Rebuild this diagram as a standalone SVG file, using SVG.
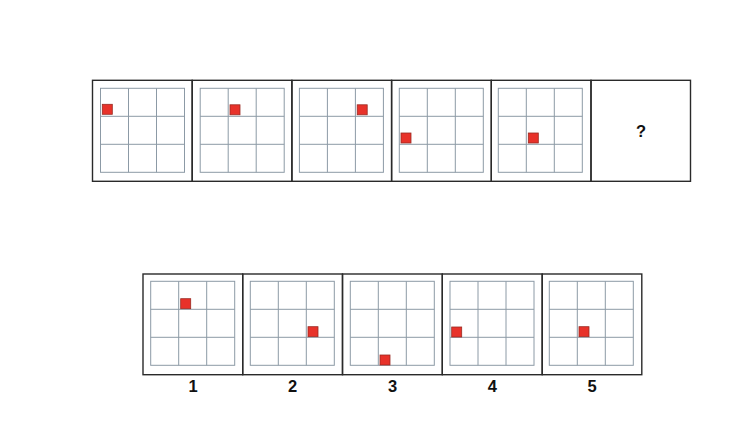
<svg xmlns="http://www.w3.org/2000/svg" xmlns:xlink="http://www.w3.org/1999/xlink" width="749" height="437" viewBox="0 0 749 437">
<style>
.frame{fill:none;stroke:#2a2a2a;stroke-width:1.4}
.grid{fill:none;stroke:#8c9aa6;stroke-width:1}
.dot{fill:#e8322a;stroke:#9a2a22;stroke-width:0.8}
.lbl{font-family:"Liberation Sans",Arial,sans-serif;font-size:16.5px;font-weight:bold;fill:#111;text-anchor:middle}
</style>
<defs>
<g id="grid">
<rect class="grid" x="0" y="0" width="84" height="84"/>
<path class="grid" d="M28 0V84M56 0V84M0 28H84M0 56H84"/>
</g>
</defs>
<rect x="0" y="0" width="749" height="437" fill="#fff"/>
<g id="top-row">
<g id="p1" transform="translate(92.5,80.3)">
<rect class="frame" x="0" y="0" width="99.7" height="101"/>
<use xlink:href="#grid" x="8" y="8"/>
<rect class="dot" x="9.8" y="24" width="10" height="10"/>
</g>
<g id="p2" transform="translate(192.2,80.3)">
<rect class="frame" x="0" y="0" width="99.7" height="101"/>
<use xlink:href="#grid" x="8" y="8"/>
<rect class="dot" x="37.8" y="24.5" width="10" height="10"/>
</g>
<g id="p3" transform="translate(291.9,80.3)">
<rect class="frame" x="0" y="0" width="99.7" height="101"/>
<use xlink:href="#grid" x="7.5" y="8"/>
<rect class="dot" x="65.3" y="24.5" width="10" height="10"/>
</g>
<g id="p4" transform="translate(391.6,80.3)">
<rect class="frame" x="0" y="0" width="99.7" height="101"/>
<use xlink:href="#grid" x="7.7" y="8"/>
<rect class="dot" x="9.4" y="52.7" width="10" height="10"/>
</g>
<g id="p5" transform="translate(491.3,80.3)">
<rect class="frame" x="0" y="0" width="99.7" height="101"/>
<use xlink:href="#grid" x="7" y="8"/>
<rect class="dot" x="37" y="52.7" width="10" height="10"/>
</g>
<g id="p6" transform="translate(591,80.3)">
<rect class="frame" x="0" y="0" width="99.5" height="101"/>
<text class="lbl" x="50" y="56.5">?</text>
</g>
</g>
<g id="bottom-row">
<g id="o1" transform="translate(143,274)">
<rect class="frame" x="0" y="0" width="99.7" height="100.7"/>
<use xlink:href="#grid" x="7.7" y="7.3"/>
<rect class="dot" x="37.7" y="24.7" width="10" height="10"/>
<text class="lbl" x="50" y="118">1</text>
</g>
<g id="o2" transform="translate(242.7,274)">
<rect class="frame" x="0" y="0" width="99.8" height="100.7"/>
<use xlink:href="#grid" x="7.6" y="7.3"/>
<rect class="dot" x="65.3" y="52.7" width="10" height="10"/>
<text class="lbl" x="50" y="118">2</text>
</g>
<g id="o3" transform="translate(342.5,274)">
<rect class="frame" x="0" y="0" width="99.8" height="100.7"/>
<use xlink:href="#grid" x="7.8" y="7.3"/>
<rect class="dot" x="37.5" y="81" width="10" height="10"/>
<text class="lbl" x="50" y="118">3</text>
</g>
<g id="o4" transform="translate(442.3,274)">
<rect class="frame" x="0" y="0" width="99.9" height="100.7"/>
<use xlink:href="#grid" x="7.7" y="7.3"/>
<rect class="dot" x="9.4" y="53" width="10" height="10"/>
<text class="lbl" x="50" y="118">4</text>
</g>
<g id="o5" transform="translate(542.2,274)">
<rect class="frame" x="0" y="0" width="99.6" height="100.7"/>
<use xlink:href="#grid" x="7.1" y="7.3"/>
<rect class="dot" x="36.8" y="52.7" width="10" height="10"/>
<text class="lbl" x="50" y="118">5</text>
</g>
</g>
</svg>
